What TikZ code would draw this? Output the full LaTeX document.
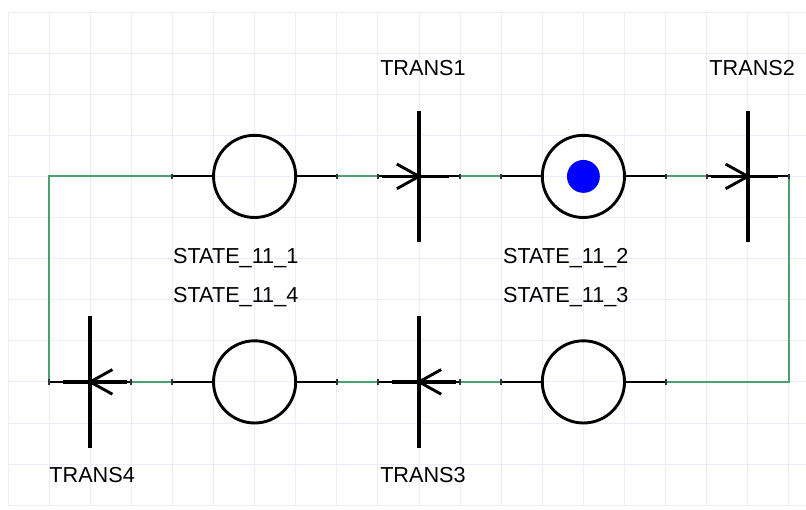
\documentclass[tikz,border=0pt]{standalone}
\usepackage{fontspec}
\setmainfont{Liberation Sans}
\usepackage{xcolor}
\usepackage{tikz}
\usetikzlibrary{arrows.meta,positioning,calc}
\definecolor{wiregreen}{RGB}{76,160,112}
\definecolor{gridblue}{RGB}{236,236,255}

\begin{document}
\begin{tikzpicture}[x=1cm,y=1cm,
  place/.style={circle,draw,line width=2pt,minimum size=2cm,inner sep=0pt},
  token/.style={circle,fill=blue,minimum size=0.8cm,inner sep=0pt},
  trans/.style={fill=black,minimum width=0.1cm,minimum height=3.2cm,inner sep=0pt},
  stub/.style={line width=1.3pt},
  wire/.style={wiregreen,line width=1.3pt},
  tick/.style={line width=1.5pt,black!80},
  lbl/.style={anchor=base west,inner sep=0pt,font=\fontsize{15}{18}\selectfont}]
  \useasboundingbox (-0.195,0.292) rectangle (19.416,-12.093);
  \draw[gridblue,line width=0.6pt] (0,0) grid (19.416,-12);
  \draw[gridblue,line width=0.6pt] (0,-12) -- (19.416,-12);
  % places
  \node[place] (s1) at (6,-4)  {};
  \node[place] (s2) at (14,-4) {};
  \node[place] (s3) at (14,-9) {};
  \node[place] (s4) at (6,-9)  {};
  \node[token] (tok) at (s2) {};
  % transitions
  \node[trans] (t1) at (10,-4) {};
  \node[trans] (t2) at (18,-4) {};
  \node[trans] (t3) at (10,-9) {};
  \node[trans] (t4) at (2,-9)  {};
  \draw[line width=2.5pt] ($(t1)+(-0.9,0)$) -- ($(t1)+(0.73,0)$);
  \draw[line width=2.5pt] ($(t2)+(-0.9,0)$) -- ($(t2)+(0.73,0)$);
  \draw[line width=2.5pt] ($(t3)+(0.9,0)$) -- ($(t3)+(-0.66,0)$);
  \draw[line width=2.5pt] ($(t4)+(0.9,0)$) -- ($(t4)+(-0.66,0)$);
  \draw[line width=2pt] ($(t1)+(-0.54,0.3)$) -- (t1.center) -- ($(t1)+(-0.54,-0.3)$);
  \draw[line width=2pt] ($(t2)+(-0.54,0.3)$) -- (t2.center) -- ($(t2)+(-0.54,-0.3)$);
  \draw[line width=2pt] ($(t3)+(0.54,0.3)$) -- (t3.center) -- ($(t3)+(0.54,-0.3)$);
  \draw[line width=2pt] ($(t4)+(0.54,0.3)$) -- (t4.center) -- ($(t4)+(0.54,-0.3)$);
  % wire pins
  \coordinate (w1a) at (8,-4);  \coordinate (w1b) at (9,-4);
  \coordinate (w2a) at (11,-4); \coordinate (w2b) at (12,-4);
  \coordinate (w3a) at (16,-4); \coordinate (w3b) at (17,-4);
  \coordinate (w4a) at (19,-4); \coordinate (w4b) at (16,-9);
  \coordinate (w5a) at (12,-9); \coordinate (w5b) at (11,-9);
  \coordinate (w6a) at (9,-9);  \coordinate (w6b) at (8,-9);
  \coordinate (w7a) at (4,-9);  \coordinate (w7b) at (3,-9);
  \coordinate (w8a) at (1,-9);  \coordinate (w8b) at (4,-4);
  % arcs
  \draw[stub] (s1) -- (w1a); \draw[wire] (w1a) -- (w1b); \draw[stub] (w1b) -- (t1);
  \draw[stub] (t1) -- (w2a); \draw[wire] (w2a) -- (w2b); \draw[stub] (w2b) -- (s2);
  \draw[stub] (s2) -- (w3a); \draw[wire] (w3a) -- (w3b); \draw[stub] (w3b) -- (t2);
  \draw[stub] (t2) -- (w4a); \draw[wire] (w4a) |- (w4b);  \draw[stub] (w4b) -- (s3);
  \draw[stub] (s3) -- (w5a); \draw[wire] (w5a) -- (w5b); \draw[stub] (w5b) -- (t3);
  \draw[stub] (t3) -- (w6a); \draw[wire] (w6a) -- (w6b); \draw[stub] (w6b) -- (s4);
  \draw[stub] (s4) -- (w7a); \draw[wire] (w7a) -- (w7b); \draw[stub] (w7b) -- (t4);
  \draw[stub] (t4) -- (w8a); \draw[wire] (w8a) |- (w8b);  \draw[stub] (w8b) -- (s1);
  \foreach \p in {w1a,w1b,w2a,w2b,w3a,w3b,w4a,w4b,w5a,w5b,w6a,w6b,w7a,w7b,w8a,w8b}
    \draw[tick] ($(\p)+(0,0.07)$) -- ($(\p)+(0,-0.07)$);
  % labels
  \node[lbl] (l1) at (9.05,-1.557)  {TRANS1};
  \node[lbl] (l2) at (17.06,-1.557) {TRANS2};
  \node[lbl] (l3) at (9.05,-11.44)  {TRANS3};
  \node[lbl] (l4) at (1.0,-11.44)   {TRANS4};
  \node[lbl] (l5) at (4.01,-6.13)   {STATE\_11\_1};
  \node[lbl] (l6) at (12.04,-6.13)  {STATE\_11\_2};
  \node[lbl] (l7) at (12.04,-7.08)  {STATE\_11\_3};
  \node[lbl] (l8) at (4.01,-7.08)   {STATE\_11\_4};
\end{tikzpicture}
\end{document}
